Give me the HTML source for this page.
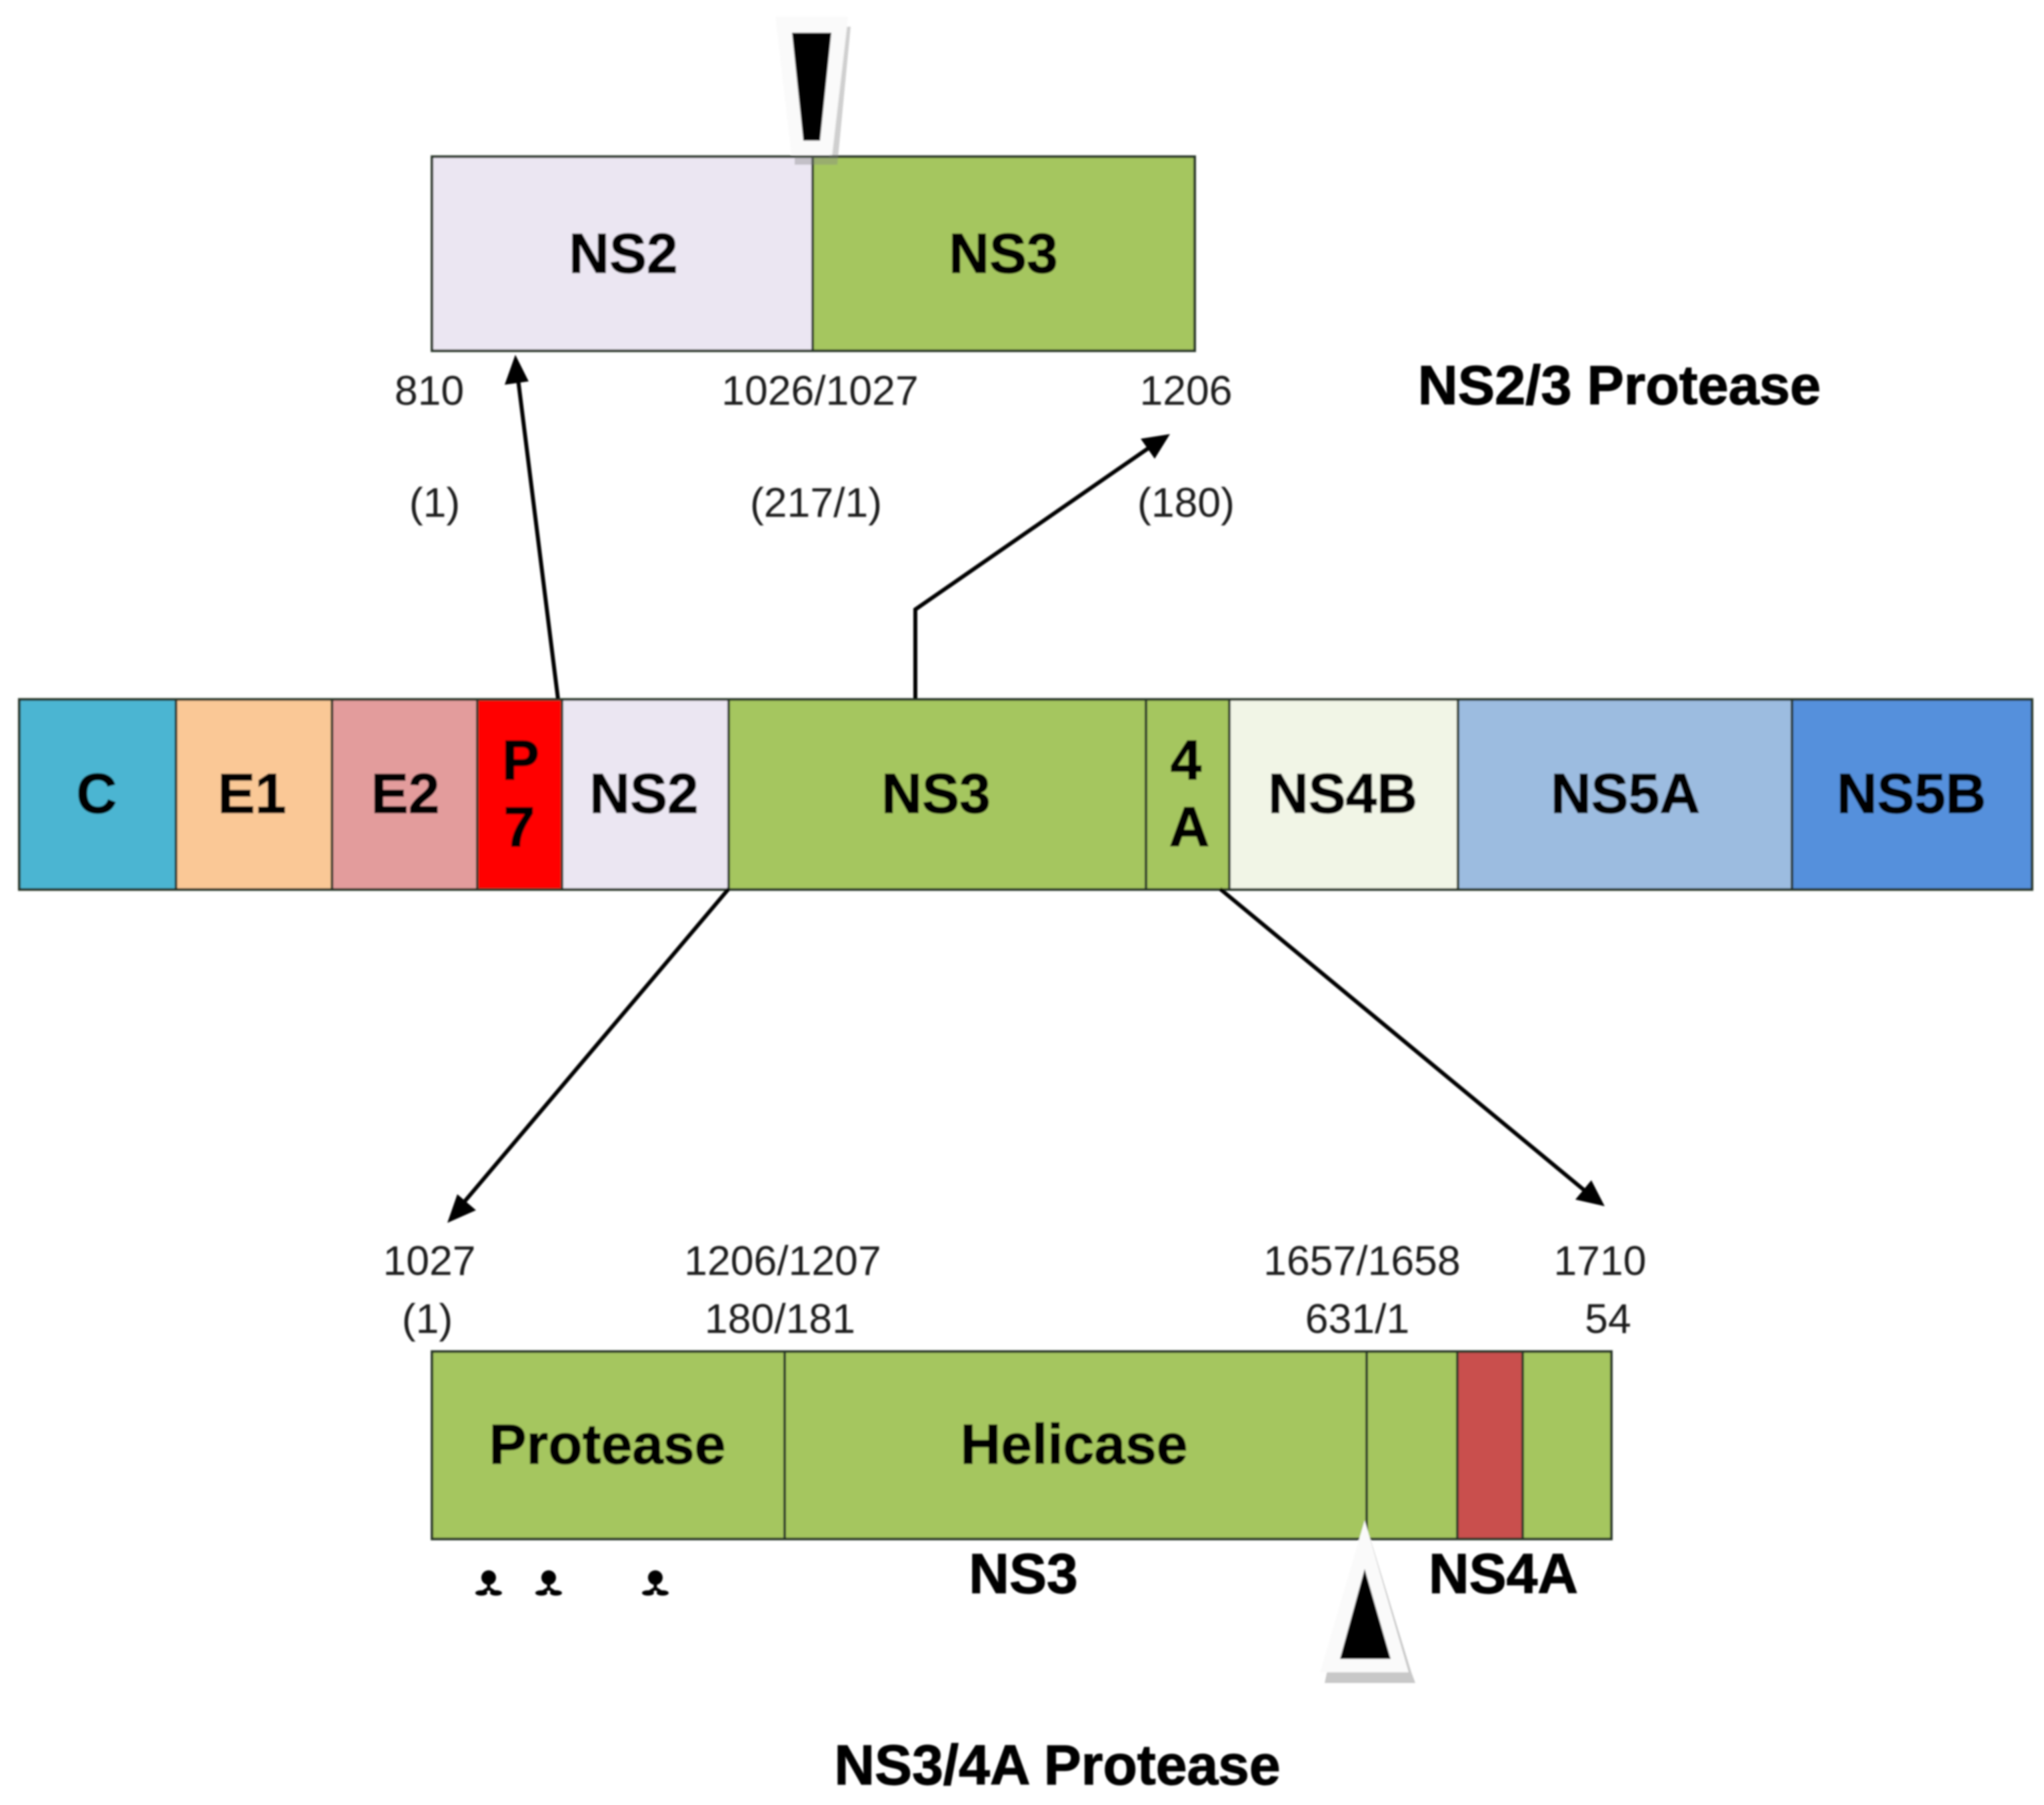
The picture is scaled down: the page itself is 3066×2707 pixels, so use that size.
<!DOCTYPE html>
<html><head><meta charset="utf-8"><style>
html,body{margin:0;padding:0;background:#fff}
svg{display:block}
.b{font-family:"Liberation Sans",sans-serif;font-weight:bold;font-size:84px;text-anchor:middle;fill:#050505;stroke:#050505;stroke-width:1.2px}
.n{font-family:"Liberation Sans",sans-serif;font-size:62.5px;text-anchor:middle;fill:#1c1c1c}
</style></head><body>
<svg width="3066" height="2707" viewBox="0 0 3066 2707" xmlns="http://www.w3.org/2000/svg">
<rect width="3066" height="2707" fill="#fff"/>
<defs><filter id="s" x="-2%" y="-2%" width="104%" height="104%"><feGaussianBlur stdDeviation="1.4"/></filter></defs>
<g filter="url(#s)">
<!-- main bar -->
<g stroke="#2c382c" stroke-width="4">
<rect x="29" y="1049" width="235" height="285" fill="#4BB5D2"/>
<rect x="264" y="1049" width="234" height="285" fill="#FAC896"/>
<rect x="498" y="1049" width="218" height="285" fill="#E39C9C"/>
<rect x="716" y="1049" width="127" height="285" fill="#FF0000"/>
<rect x="843" y="1049" width="250" height="285" fill="#EBE6F2"/>
<rect x="1093" y="1049" width="626" height="285" fill="#A5C65E"/>
<rect x="1719" y="1049" width="125" height="285" fill="#A5C65E"/>
<rect x="1844" y="1049" width="343" height="285" fill="#F1F5E6"/>
<rect x="2187" y="1049" width="501" height="285" fill="#9CBCE0"/>
<rect x="2688" y="1049" width="360" height="285" fill="#5590DC"/>
<!-- top box -->
<rect x="648" y="235" width="571" height="291" fill="#EBE6F2"/>
<rect x="1219" y="235" width="573" height="291" fill="#A5C65E"/>
<!-- bottom box -->
<rect x="648" y="2027" width="529" height="281" fill="#A5C65E"/>
<rect x="1177" y="2027" width="873" height="281" fill="#A5C65E"/>
<rect x="2050" y="2027" width="136" height="281" fill="#A5C65E"/>
<rect x="2186" y="2027" width="98" height="281" fill="#C9504E"/>
<rect x="2284" y="2027" width="133" height="281" fill="#A5C65E"/>
</g>
<!-- connectors -->
<g stroke="#000" stroke-width="6" fill="none">
<line x1="837" y1="1048" x2="776" y2="560"/>
<polyline points="1373,1048 1373,914 1730,667"/>
<line x1="1093" y1="1333" x2="690" y2="1810"/>
<line x1="1830" y1="1333" x2="2380" y2="1788"/>
</g>
<g fill="#000">
<polygon points="773,532 793,572 757,577"/>
<polygon points="1755,651 1732,688 1711,658"/>
<polygon points="671,1834 686,1791 714,1815"/>
<polygon points="2407,1809 2363,1799 2387,1770"/>
</g>
<!-- top marker -->
<polygon points="1262,40 1276,40 1256,247 1192,247 1192,235 1244,235" fill="#888" opacity=".4"/>
<polygon points="1163,25 1272,25 1248,232 1187,232" fill="#fafafa"/>
<polygon points="1188,49 1247,49 1230,211 1205,211" fill="#000"/>
<!-- bottom marker -->
<polygon points="2047,2280 2117,2508 2123,2524 1987,2524 1990,2510" fill="#c8c8c8"/>
<polygon points="2047,2280 2113,2508 1980,2508" fill="#fafafa"/>
<polygon points="2047,2353 2086,2488 2010,2488" fill="#000"/>
<!-- loop symbols -->
<g fill="#000" stroke="#000">
<g><circle cx="733" cy="2366" r="11" stroke="none"/><path d="M733 2370L733 2382L722 2389M733 2382L744 2389" stroke-width="5" fill="none"/><ellipse cx="722" cy="2389" rx="9" ry="4" stroke="none"/><ellipse cx="744" cy="2389" rx="9" ry="4" stroke="none"/></g>
<g><circle cx="823" cy="2366" r="11" stroke="none"/><path d="M823 2370L823 2382L812 2389M823 2382L834 2389" stroke-width="5" fill="none"/><ellipse cx="812" cy="2389" rx="9" ry="4" stroke="none"/><ellipse cx="834" cy="2389" rx="9" ry="4" stroke="none"/></g>
<g><circle cx="983" cy="2366" r="11" stroke="none"/><path d="M983 2370L983 2382L972 2389M983 2382L994 2389" stroke-width="5" fill="none"/><ellipse cx="972" cy="2389" rx="9" ry="4" stroke="none"/><ellipse cx="994" cy="2389" rx="9" ry="4" stroke="none"/></g>
</g>
<!-- bold labels -->
<text class="b" x="935" y="409">NS2</text>
<text class="b" x="1505" y="409">NS3</text>
<text class="b" x="2429" y="606" style="font-size:83px">NS2/3 Protease</text>
<text class="b" x="145" y="1219">C</text>
<text class="b" x="378" y="1219">E1</text>
<text class="b" x="608" y="1219">E2</text>
<text class="b" x="781" y="1169">P</text>
<text class="b" x="779" y="1269">7</text>
<text class="b" x="966" y="1219">NS2</text>
<text class="b" x="1404" y="1219">NS3</text>
<text class="b" x="1779" y="1169">4</text>
<text class="b" x="1784" y="1269">A</text>
<text class="b" x="2014" y="1219">NS4B</text>
<text class="b" x="2438" y="1219">NS5A</text>
<text class="b" x="2867" y="1219">NS5B</text>
<text class="b" x="911" y="2195">Protease</text>
<text class="b" x="1611" y="2195">Helicase</text>
<text class="b" x="1535" y="2389">NS3</text>
<text class="b" x="2255" y="2389">NS4A</text>
<text class="b" x="1586" y="2676" style="font-size:84px">NS3/4A Protease</text>
<!-- numbers -->
<text class="n" x="644" y="607">810</text>
<text class="n" x="1230" y="607">1026/1027</text>
<text class="n" x="1779" y="607">1206</text>
<text class="n" x="652" y="775">(1)</text>
<text class="n" x="1224" y="775">(217/1)</text>
<text class="n" x="1779" y="775">(180)</text>
<text class="n" x="644" y="1912">1027</text>
<text class="n" x="1174" y="1912">1206/1207</text>
<text class="n" x="2043" y="1912">1657/1658</text>
<text class="n" x="2400" y="1912">1710</text>
<text class="n" x="641" y="1999">(1)</text>
<text class="n" x="1170" y="1999">180/181</text>
<text class="n" x="2036" y="1999">631/1</text>
<text class="n" x="2412" y="1999">54</text>
</g>
</svg>
</body></html>
